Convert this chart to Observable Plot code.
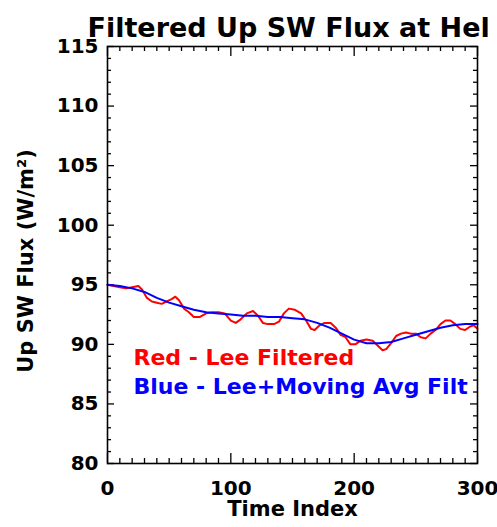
<!DOCTYPE html>
<html>
<head>
<meta charset="utf-8">
<script src="https://cdn.jsdelivr.net/npm/d3@7"></script>
<script src="https://cdn.jsdelivr.net/npm/@observablehq/plot@0.6"></script>
<style>
html, body { margin: 0; padding: 0; background: white; }
</style>
</head>
<body>
<div id="chart"></div>
<script>
// Red - Lee Filtered
const redX = [0,5,10,15,20,25,28,32,36,40,44,48,52,55,58,62,66,70,75,80,85,90,95,100,104,108,113,118,122,126,130,135,139,143,147,152,157,161,165,168,172,176,181,185,189,193,197,201,205,210,215,219,223,226,230,234,238,242,246,250,254,258,262,266,270,274,278,282,286,290,294,297,300];
const redY = [95.0,94.9,94.8,94.7,94.8,94.9,94.6,93.9,93.6,93.5,93.4,93.6,93.8,94.0,93.7,93.0,92.7,92.3,92.3,92.6,92.7,92.7,92.6,92.0,91.8,92.1,92.6,92.8,92.4,91.8,91.7,91.7,91.9,92.6,93.0,92.9,92.6,92.0,91.3,91.2,91.6,91.8,91.8,91.4,90.8,90.6,90.0,90.0,90.3,90.4,90.3,89.9,89.5,89.6,90.1,90.7,90.9,91.0,90.9,90.9,90.6,90.5,90.9,91.2,91.7,92.0,92.0,91.7,91.3,91.2,91.5,91.6,91.3];
// Blue - Lee + Moving Avg Filt
const blueX = [0,10,20,30,40,50,60,70,80,90,100,110,120,130,140,150,160,170,180,190,200,210,220,230,240,250,260,270,280,290,300];
const blueY = [95.0,94.9,94.7,94.4,93.9,93.5,93.2,92.9,92.7,92.6,92.5,92.4,92.4,92.3,92.3,92.2,92.1,91.8,91.4,90.9,90.4,90.1,90.1,90.2,90.5,90.8,91.1,91.4,91.6,91.7,91.7];

const xTicks = [0, 100, 200, 300];
const yTicks = [80, 85, 90, 95, 100, 105, 110, 115];
const xMinor = d3.range(0, 301, 10).filter(d => d % 100 !== 0);
const yMinor = d3.range(80, 116, 1).filter(d => d % 5 !== 0);

const titleText = "Filtered Up SW Flux at Hel";
const xLabel = "Time Index";
const yLabel = "Up SW Flux (W/m\u00B2)";
const legendRed = "Red - Lee Filtered";
const legendBlue = "Blue - Lee+Moving Avg Filt";

const red = redX.map((x, i) => ({x, y: redY[i]}));
const blue = blueX.map((x, i) => ({x, y: blueY[i]}));

const W = 497, H = 527;
const mL = 107, mR = 20, mT = 46, mB = 64;
const fw = W - mL - mR, fh = H - mT - mB;
const font = "DejaVu Sans";
const txt = {fontWeight: "bold", fontFamily: font};

const chart = Plot.plot({
  width: W, height: H,
  marginLeft: mL, marginRight: mR, marginTop: mT, marginBottom: mB,
  style: {background: "white", fontFamily: font, overflow: "visible"},
  x: {domain: [0, 300]},
  y: {domain: [80, 115]},
  marks: [
    // ticks (inward, mirrored on all four sides)
    Plot.ruleX(xMinor, {stroke: "black", strokeWidth: 1.3, insetTop: fh - 5}),
    Plot.ruleX(xMinor, {stroke: "black", strokeWidth: 1.3, insetBottom: fh - 5}),
    Plot.ruleX(xTicks, {stroke: "black", strokeWidth: 1.3, insetTop: fh - 10}),
    Plot.ruleX(xTicks, {stroke: "black", strokeWidth: 1.3, insetBottom: fh - 10}),
    Plot.ruleY(yMinor, {stroke: "black", strokeWidth: 1.3, insetRight: fw - 4}),
    Plot.ruleY(yMinor, {stroke: "black", strokeWidth: 1.3, insetLeft: fw - 4}),
    Plot.ruleY(yTicks, {stroke: "black", strokeWidth: 1.3, insetRight: fw - 7}),
    Plot.ruleY(yTicks, {stroke: "black", strokeWidth: 1.3, insetLeft: fw - 7}),
    Plot.line(red, {x: "x", y: "y", stroke: "red", strokeWidth: 2}),
    Plot.line(blue, {x: "x", y: "y", stroke: "blue", strokeWidth: 2}),
    Plot.frame({stroke: "black", strokeWidth: 1.6}),
    Plot.axisX({ticks: xTicks, tickSize: 0, tickPadding: 17, fontSize: 20, ...txt, fill: "black", label: null}),
    Plot.axisY({ticks: yTicks, tickSize: 0, tickPadding: 9, fontSize: 20, ...txt, fill: "black", label: null}),
    Plot.text([xLabel], {frameAnchor: "bottom", dy: 52, fontSize: 21, ...txt, fill: "black"}),
    Plot.text([yLabel], {frameAnchor: "left", textAnchor: "middle", dx: -81, dy: 6, rotate: -90, fontSize: 21, ...txt, fill: "black"}),
    Plot.text([titleText], {frameAnchor: "top-left", textAnchor: "start", dx: -20, dy: -29, fontSize: 27, ...txt, fill: "black"}),
    Plot.text([legendRed], {frameAnchor: "top-left", textAnchor: "start", dx: 26, dy: 303, fontSize: 22, ...txt, fill: "red"}),
    Plot.text([legendBlue], {frameAnchor: "top-left", textAnchor: "start", dx: 26, dy: 332, fontSize: 22, ...txt, fill: "blue"})
  ]
});

document.getElementById("chart").appendChild(chart);
</script>
</body>
</html>
